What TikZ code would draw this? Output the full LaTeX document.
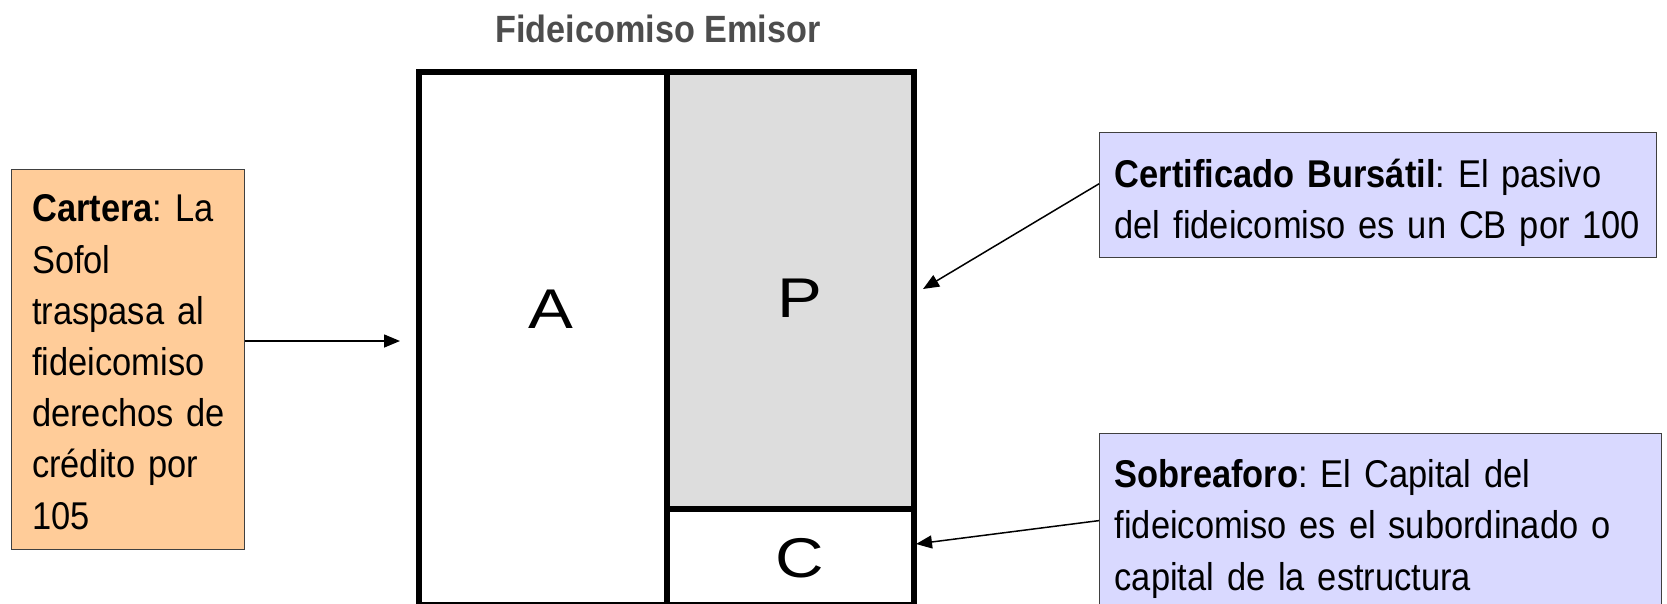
\documentclass[tikz,border=0pt]{standalone}
\usepackage{fontspec}
\setmainfont{Liberation Sans}
\newfontfamily\boxFont{Liberation Sans}[FakeStretch=0.89]
\newfontfamily\titleFont{Liberation Sans}[FakeStretch=0.9]
\newfontfamily\wideFont{Liberation Sans}[FakeStretch=1.2]
\usetikzlibrary{arrows.meta,calc}
\definecolor{naranja}{RGB}{255,204,153}
\definecolor{lila}{RGB}{217,217,255}
\definecolor{gris}{RGB}{221,221,221}
\definecolor{titulo}{RGB}{77,77,77}
\definecolor{borde}{RGB}{64,64,64}
\begin{document}
\begin{tikzpicture}[x=1pt,y=-1pt,>={Triangle[length=16pt,width=13pt]},
  caja/.style={draw=borde,line width=1.3pt,align=left,inner ysep=0pt,anchor=north west,
    font={\boxFont\fontsize{38.7}{51.2}\selectfont\frenchspacing}},
  letra/.style={font=\wideFont\fontsize{56}{60}\selectfont},
  flecha/.style={->,line width=1.5pt}]
\useasboundingbox (0,0) rectangle (1667,603);
% el balance del fideicomiso
\fill[gris] (666.5,71.5) rectangle (914,509);
\draw[line width=6pt] (419,71.5) rectangle (914,605);
\draw[line width=6pt] (666.5,71.5)--(666.5,605);
\draw[line width=6pt] (666.5,509)--(914,509);
\node[font=\titleFont\bfseries\fontsize{38}{42}\selectfont,text=titulo,anchor=base] (titulo) at (658,42) {Fideicomiso Emisor};
\node[letra] (A) at (551,309) {A};
\node[letra] (P) at (799.5,298) {P};
\node[letra] (C) at (800,558) {C};
% cajas de texto
\node[caja,fill=naranja,text width=192pt,inner xsep=20.5pt,minimum height=380pt] (cartera) at (11,169)
  {\mbox{\rule{0pt}{32pt}\textbf{Cartera}: La}\\ \mbox{Sofol}\\ \mbox{traspasa al}\\ \mbox{fideicomiso}\\ \mbox{derechos de}\\ \mbox{crédito por}\\ \mbox{105}};
\node[caja,fill=lila,text width=527pt,inner xsep=15pt,minimum height=125pt] (cb) at (1099,132)
  {\mbox{\rule{0pt}{44pt}\textbf{Certificado Bursátil}: El pasivo}\\ \mbox{del fideicomiso es un CB por 100}};
\node[caja,fill=lila,text width=532pt,inner xsep=15pt,minimum height=190.4pt] (sob) at (1099,433)
  {\mbox{\textbf{Sobreaforo}: El Capital del}\\ \mbox{fideicomiso es el subordinado o}\\ \mbox{capital de la estructura}};
% flechas
\coordinate (pA) at (400,341);
\coordinate (pP) at (923,289);
\coordinate (pC) at (916,544);
\draw[flecha] (cartera.east |- pA) -- (pA);
\draw[flecha] ($(cb.north west)!0.41!(cb.south west)$) -- (pP);
\draw[flecha] ($(sob.north west)!0.457!(sob.south west)$) -- (pC);
\end{tikzpicture}
\end{document}
